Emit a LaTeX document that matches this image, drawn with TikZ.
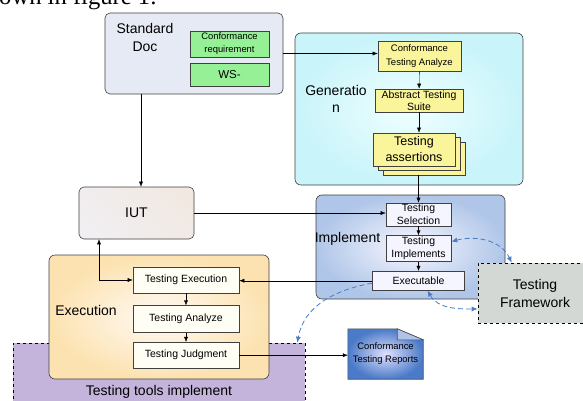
\documentclass[tikz,border=0pt]{standalone}
\usepackage{fontspec}
\setmainfont{Liberation Sans}
\newfontfamily\paperfont{Liberation Serif}
\usepackage{tikz}
\usetikzlibrary{arrows.meta,backgrounds,positioning}
\definecolor{docgray}{RGB}{230,234,245}
\definecolor{reqgreen}{RGB}{150,240,150}
\definecolor{gencyan}{RGB}{200,244,250}
\definecolor{stepyellow}{RGB}{250,245,155}
\definecolor{iutgray}{RGB}{232,228,232}
\definecolor{impblue}{RGB}{176,198,232}
\definecolor{exeorange}{RGB}{252,226,176}
\definecolor{toolpurple}{RGB}{196,180,220}
\definecolor{fwgray}{RGB}{212,216,212}
\definecolor{repblue}{RGB}{74,122,200}
\definecolor{linkblue}{RGB}{74,124,200}
\newcommand{\bigtxt}{\fontsize{14}{18}\selectfont}
\newcommand{\midtxt}{\fontsize{10.5}{13}\selectfont}
\newcommand{\smtxt}{\fontsize{9.4}{13}\selectfont}

\begin{document}
\begin{tikzpicture}[x=1pt, y=-1pt, >={Latex[length=5pt,width=4pt]},
    box/.style={draw=black!75, line width=0.6pt, inner sep=0pt, align=center},
    group/.style={box, rounded corners=6pt},
    label/.style={inner sep=0pt, align=center, font=\bigtxt},
    reqbox/.style={box, fill=reqgreen, minimum width=79pt, font=\smtxt},
    ybox/.style={box, fill=stepyellow},
    ibox/.style={box, fill=blue!4, minimum width=65pt, font=\midtxt},
    ebox/.style={box, fill=yellow!4, minimum width=106pt, font=\midtxt},
    bluelink/.style={draw=linkblue, line width=0.8pt, dash pattern=on 5pt off 3pt,
      >={Latex[length=6pt,width=5pt]}}]
    \useasboundingbox (0,0) rectangle (583,401);
    \node[anchor=base west, inner sep=0pt, font=\paperfont\fontsize{24.6}{28}\selectfont] (cap) at (-1,4.5) {own in figure 1:};
    % standard document
    \node[group, rounded corners=5pt, fill=docgray, minimum width=178pt, minimum height=81pt] (doc) at (194,53.5) {};
    \node[label, text depth=0pt] (doctxt) at (145,37) {Standard\\Doc};
    \node[reqbox, minimum height=26pt] (req) at (229.5,44) {Conformance\\requirement};
    \node[reqbox, minimum height=23pt, font=\fontsize{11.5}{13}\selectfont] (ws) at (229.5,74.5) {WS-};
    % generation
    \node[group, inner color=cyan!6, outer color=gencyan, minimum width=228pt, minimum height=152pt] (gen) at (409,109) {};
    \node[label, font=\fontsize{14}{17}\selectfont] (gentxt) at (336,99) {Generatio\\n};
    \node[ybox, minimum width=83pt, minimum height=30pt, font=\fontsize{9.5}{14}\selectfont] (cta) at (419.5,56) {Conformance\\Testing Analyze};
    \node[ybox, minimum width=88pt, minimum height=23pt, font=\fontsize{10.5}{12}\selectfont] (ats) at (419,100.5) {Abstract Testing\\Suite};
    \node[ybox, minimum width=82pt, minimum height=33pt] (ta3) at (424,158.5) {};
    \node[ybox, minimum width=82pt, minimum height=33pt] (ta2) at (419,154) {};
    \node[ybox, minimum width=82pt, minimum height=33pt, font=\fontsize{12.5}{16}\selectfont] (ta) at (414,149.5) {Testing\\assertions};
    % implementation under test
    \node[group, rounded corners=5pt, left color=iutgray!60, right color=iutgray!70!brown!40, shading angle=135, minimum width=115pt, minimum height=52pt, font=\bigtxt] (iut) at (136.5,213) {IUT};
    % implement
    \node[group, inner color=blue!3!white, outer color=impblue, minimum width=189pt, minimum height=104pt] (imp) at (410.5,247) {};
    \node[label] (imptxt) at (347.5,239) {Implement};
    \node[ibox, minimum height=23pt] (sel) at (418.5,214.5) {Testing\\Selection};
    \node[ibox, minimum height=26pt, below=9pt of sel] (tim) {Testing\\Implements};
    \node[ibox, minimum width=92pt, minimum height=19pt, below=9pt of tim] (exe) {Executable};
    \node[box, draw=black, dashed, fill=fwgray, minimum width=114pt, minimum height=60pt, font=\bigtxt] (fw) at (535,293) {Testing\\Framework};
    % execution
    \node[box, draw=black, dashed, fill=toolpurple, minimum width=292pt, minimum height=77pt] (tools) at (159,381.5) {};
    \node[label] (toolstxt) at (159,392) {Testing tools implement};
    \node[group, inner color=orange!4!white, outer color=exeorange, minimum width=220pt, minimum height=124pt] (exec) at (159,317) {};
    \node[label] (exectxt) at (86,310) {Execution};
    \node[ebox, minimum height=26pt] (tex) at (186,280) {Testing Execution};
    \node[ebox, minimum height=27pt, below=12pt of tex] (tan) {Testing Analyze};
    \node[ebox, minimum height=26pt, below=9pt of tan] (tju) {Testing Judgment};
    % report
    \node[inner sep=0pt, align=center, minimum width=75pt, minimum height=50pt, font=\smtxt] (rep) at (385.5,354) {Conformance\\Testing Reports};
    \begin{pgfonlayer}{background}
      \fill[white] (0,0) rectangle (583,401);
      \path[draw=black!70, line width=0.6pt, inner color=blue!12!white, outer color=repblue]
        (rep.south west) -- (rep.north west) -- ([xshift=-26pt]rep.north east) --
        ([yshift=-11pt]rep.north east) -- (rep.south east) -- cycle;
      \draw[draw=black!70, line width=0.6pt, fill=repblue!45!white]
        ([xshift=-26pt]rep.north east) -- ([xshift=-26pt,yshift=-11pt]rep.north east) --
        ([yshift=-11pt]rep.north east) -- cycle;
    \end{pgfonlayer}
    % connectors
    \draw[->] (doc.east) -- (doc.east -| cta.west);
    \draw[->] ([xshift=4.5pt]iut.north |- doc.south) -- ([xshift=4.5pt]iut.north);
    \draw[->] (cta) -- (ats);
    \draw[->] (ats.south) -- (ats.south |- ta.north);
    \draw[->] (sel.north |- ta3.south) -- (sel.north);
    \draw[->] (iut.east) -- (iut.east -| sel.west);
    \draw[->] (sel) -- (tim);
    \draw[->] (tim) -- (exe);
    \draw[->] (exe.west) -- (exe.west -| tex.east);
    \draw[<->] ([xshift=-37.5pt]iut.south) |- (tex.west);
    \draw[->] (tex) -- (tan);
    \draw[->] (tan) -- (tju);
    \draw[->] (tju.east) -- (tju.east -| rep.west);
    \draw[bluelink, <->] ([yshift=7pt]tim.east) to[out=15, in=115] ([xshift=34pt]fw.north west);
    \draw[bluelink, <->] ([xshift=9pt]exe.south) to[out=-60, in=180] ([yshift=-16pt]fw.west);
    \draw[bluelink, ->] ([yshift=-2.5pt]exe.west) to[out=190, in=80] ([xshift=-8pt]tools.north east);
  \end{tikzpicture}
\end{document}
